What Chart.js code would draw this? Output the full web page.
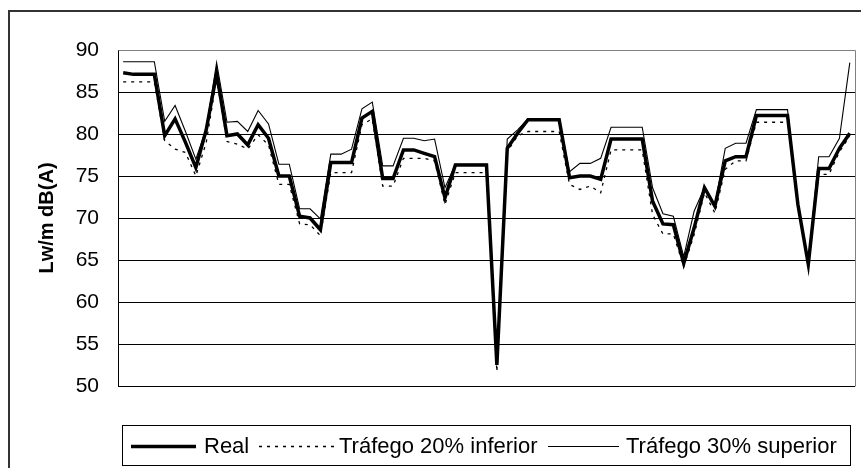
<!DOCTYPE html>
<html><head><meta charset="utf-8">
<script src="https://cdn.jsdelivr.net/npm/chart.js@4/dist/chart.umd.min.js"></script>
<style>html,body{margin:0;padding:0;background:#fff;}#wrap{width:861px;height:468px;}</style>
</head><body><div id="wrap"><canvas id="c" width="861" height="468"></canvas></div>
<script>
const categories = [1,2,3,4,5,6,7,8,9,10,11,12,13,14,15,16,17,18,19,20,21,22,23,24,25,26,27,28,29,30,31,32,33,34,35,36,37,38,39,40,41,42,43,44,45,46,47,48,49,50,51,52,53,54,55,56,57,58,59,60,61,62,63,64,65,66,67,68,69,70,71];
const realValues = [87.3,87.1,87.1,87.1,79.8,81.8,79.0,76.0,80.5,87.2,79.8,80.0,78.7,81.1,79.5,75.0,75.0,70.2,70.0,68.6,76.6,76.6,76.6,81.9,82.7,74.7,74.7,78.1,78.1,77.7,77.3,72.4,76.3,76.3,76.3,76.3,52.5,78.3,80.1,81.7,81.7,81.7,81.7,74.8,75.0,75.0,74.6,79.4,79.4,79.4,79.4,72.0,69.3,69.2,64.6,68.8,73.6,71.4,76.8,77.3,77.3,82.2,82.2,82.2,82.2,71.6,64.5,75.9,75.9,78.3,80.1];
const inferiorValues = [86.2,86.2,86.2,86.2,79.2,78.2,77.8,75.0,79.0,86.6,79.1,78.8,78.2,79.9,78.7,74.0,74.0,69.3,69.2,67.9,75.4,75.4,75.4,81.1,81.8,73.8,73.8,77.1,77.1,77.1,76.8,71.6,75.4,75.4,75.4,75.4,51.7,77.9,79.8,80.3,80.3,80.3,80.3,74.0,73.4,73.8,73.0,78.1,78.1,78.1,78.1,70.4,68.1,68.1,64.2,68.0,73.0,70.6,75.8,76.8,76.8,81.4,81.4,81.4,81.4,71.3,64.4,75.2,75.2,77.9,79.7];
const superiorValues = [88.6,88.6,88.6,88.6,81.5,83.4,80.3,77.0,80.6,88.5,81.4,81.5,80.3,82.8,81.2,76.4,76.4,71.1,71.1,69.9,77.6,77.6,78.2,83.0,83.8,76.2,76.2,79.5,79.5,79.2,79.4,73.6,76.4,76.4,76.4,76.4,53.5,79.4,80.5,81.8,81.8,81.8,81.8,75.5,76.5,76.5,77.1,80.8,80.8,80.8,80.8,73.6,70.5,70.2,65.4,70.8,73.6,71.6,78.3,78.9,78.9,82.9,82.9,82.9,82.9,71.8,64.6,77.3,77.3,79.5,88.5];
const yTickValues = [50,55,60,65,70,75,80,85,90];
const seriesNames = ['Real','Tráfego 20% inferior','Tráfego 30% superior'];
const yAxisTitle = 'Lw/m dB(A)';

const FONT = "'Liberation Sans', Arial, sans-serif";

const frame = {
  id: 'frame',
  beforeDraw(chart) {
    const ctx = chart.ctx;
    ctx.save();
    ctx.fillStyle = '#fff';
    ctx.fillRect(0, 0, chart.width, chart.height);
    ctx.strokeStyle = '#333';
    ctx.lineWidth = 2;
    ctx.beginPath();
    ctx.moveTo(9, chart.height + 2);
    ctx.lineTo(9, 11);
    ctx.lineTo(chart.width + 2, 11);
    ctx.stroke();
    ctx.restore();
  },
  beforeDatasetsDraw(chart) {
    const a = chart.chartArea, ctx = chart.ctx;
    ctx.save();
    ctx.strokeStyle = '#808080';
    ctx.lineWidth = 1;
    ctx.beginPath();
    ctx.moveTo(Math.round(a.left) + 0.5, Math.round(a.top) + 0.5);
    ctx.lineTo(Math.round(a.right) + 0.5, Math.round(a.top) + 0.5);
    ctx.lineTo(Math.round(a.right) + 0.5, Math.round(a.bottom) + 0.5);
    ctx.stroke();
    ctx.restore();
  },
  afterDraw(chart) {
    const ctx = chart.ctx;
    const box = {x: 122.5, y: 425.5, w: 728, h: 40};
    const items = [{x0: 131, x1: 196, tx: 204}, {x0: 259, x1: 334, tx: 339}, {x0: 548, x1: 619, tx: 626}];
    const cy = box.y + box.h / 2;
    ctx.save();
    ctx.strokeStyle = '#000';
    ctx.lineWidth = 1;
    ctx.strokeRect(box.x, box.y, box.w, box.h);
    ctx.font = '22px ' + FONT;
    ctx.fillStyle = '#000';
    ctx.textBaseline = 'middle';
    ctx.textAlign = 'left';
    chart.data.datasets.forEach((ds, i) => {
      const it = items[i];
      ctx.beginPath();
      ctx.lineWidth = ds.borderWidth;
      ctx.setLineDash(ds.borderDash || []);
      ctx.strokeStyle = ds.borderColor;
      ctx.moveTo(it.x0, Math.round(cy) + 0.5);
      ctx.lineTo(it.x1, Math.round(cy) + 0.5);
      ctx.stroke();
      ctx.setLineDash([]);
      ctx.fillText(ds.label, it.tx, cy + 1);
    });
    ctx.restore();
  }
};

new Chart(document.getElementById('c'), {
  type: 'line',
  data: {
    labels: categories,
    datasets: [
      {label: seriesNames[0], data: realValues, borderColor: '#000', borderWidth: 3.5, pointRadius: 0, tension: 0, fill: false, order: 3},
      {label: seriesNames[1], data: inferiorValues, borderColor: '#000', borderWidth: 1.3, borderDash: [3, 5], pointRadius: 0, tension: 0, fill: false, order: 2},
      {label: seriesNames[2], data: superiorValues, borderColor: '#000', borderWidth: 1.1, pointRadius: 0, tension: 0, fill: false, order: 1}
    ]
  },
  options: {
    responsive: false,
    animation: false,
    devicePixelRatio: 1,
    layout: {padding: {left: 0, top: 50, right: 6, bottom: 82}},
    plugins: {legend: {display: false}, tooltip: {enabled: false}},
    scales: {
      x: {type: 'category', display: false, offset: true},
      y: {
        min: 50, max: 90,
        afterBuildTicks(scale) { scale.ticks = yTickValues.map(v => ({value: v})); },
        afterFit(scale) { scale.width = 118; },
        grid: {
          color: ctx => (ctx.tick && ctx.tick.value === 90) ? '#808080' : '#000',
          lineWidth: 1, drawTicks: false
        },
        border: {display: true, color: '#000', width: 1},
        ticks: {color: '#000', padding: 19, font: {family: FONT, size: 21}},
        title: {display: true, text: yAxisTitle, color: '#000', font: {family: FONT, size: 20, weight: 'bold'}, padding: {top: 35, bottom: 0}}
      }
    }
  },
  plugins: [frame]
});
</script>
</body></html>
